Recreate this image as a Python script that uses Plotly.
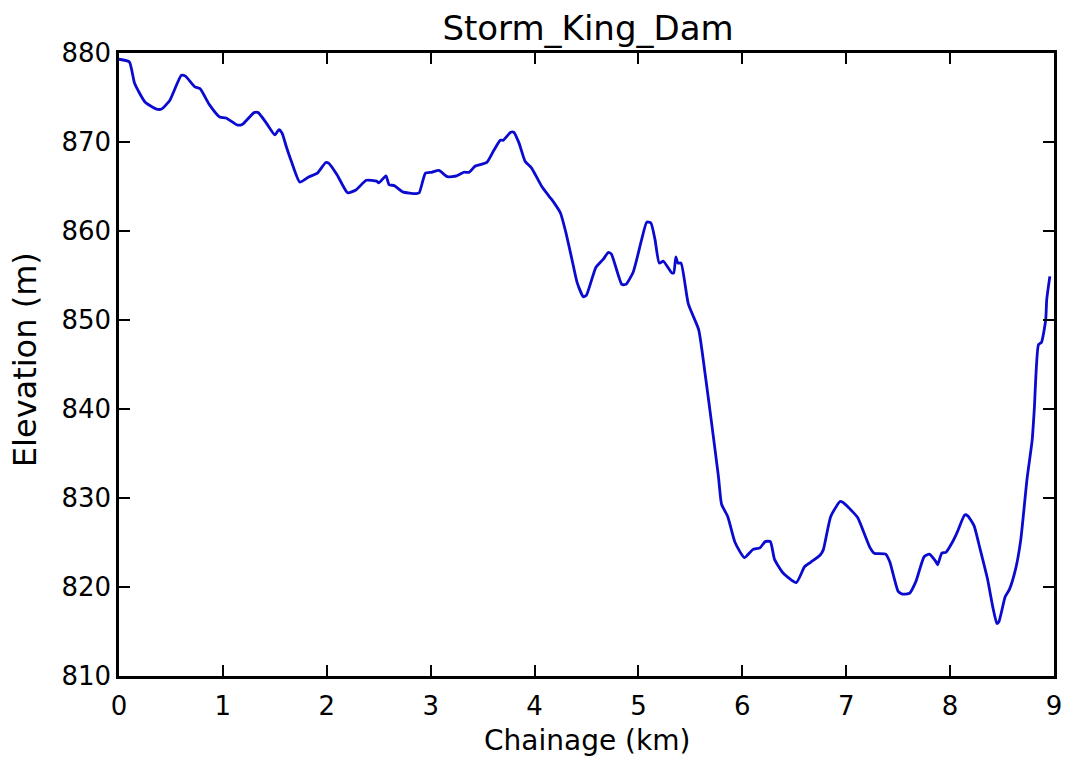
import plotly.graph_objects as go

chainage_km = [0.0, 0.1, 0.15, 0.25, 0.36, 0.41, 0.49, 0.6, 0.64, 0.73, 0.78, 0.87, 0.97, 1.03, 1.14, 1.19,
               1.3, 1.34, 1.42, 1.5, 1.54, 1.57, 1.61, 1.66, 1.74, 1.83, 1.91, 1.99, 2.02, 2.1, 2.2, 2.28,
               2.38, 2.48, 2.5, 2.57, 2.6, 2.65, 2.73, 2.86, 2.89, 2.95, 3.01, 3.08, 3.16, 3.25, 3.32, 3.37,
               3.43, 3.54, 3.61, 3.67, 3.7, 3.77, 3.8, 3.85, 3.91, 3.97, 4.07, 4.14, 4.18, 4.25, 4.3, 4.36,
               4.41, 4.47, 4.5, 4.59, 4.66, 4.71, 4.74, 4.84, 4.88, 4.95, 5.03, 5.08, 5.12, 5.16, 5.2, 5.24,
               5.32, 5.34, 5.36, 5.38, 5.41, 5.48, 5.58, 5.64, 5.7, 5.77, 5.8, 5.86, 5.93, 6.02, 6.1, 6.17,
               6.22, 6.27, 6.31, 6.39, 6.52, 6.6, 6.66, 6.75, 6.78, 6.85, 6.94, 6.97, 7.05, 7.11, 7.23, 7.27,
               7.38, 7.42, 7.5, 7.54, 7.61, 7.67, 7.75, 7.8, 7.86, 7.88, 7.92, 7.96, 8.02, 8.07, 8.14, 8.17,
               8.23, 8.29, 8.36, 8.41, 8.45, 8.47, 8.53, 8.57, 8.63, 8.68, 8.74, 8.79, 8.81, 8.85, 8.88, 8.92,
               8.93, 8.96]
elevation_m = [879.3, 879.0, 876.6, 874.5, 873.7, 873.7, 874.7, 877.5, 877.4, 876.2, 876.0, 874.2, 872.8, 872.7,
               871.9, 872.0, 873.3, 873.3, 872.1, 870.8, 871.4, 871.0, 869.5, 867.8, 865.5, 866.1, 866.5, 867.7,
               867.6, 866.3, 864.3, 864.6, 865.7, 865.6, 865.4, 866.2, 865.2, 865.1, 864.4, 864.2, 864.3, 866.5,
               866.6, 866.8, 866.1, 866.2, 866.6, 866.6, 867.3, 867.7, 869.1, 870.2, 870.2, 871.1, 871.1, 869.9,
               867.8, 867.1, 865.0, 863.9, 863.3, 862.0, 859.9, 856.8, 854.2, 852.6, 852.8, 855.9, 856.8, 857.6,
               857.4, 854.0, 854.0, 855.4, 859.0, 861.0, 860.9, 859.0, 856.4, 856.6, 855.3, 855.3, 857.1, 856.4,
               856.4, 851.8, 848.9, 844.1, 838.8, 832.4, 829.3, 827.9, 825.0, 823.3, 824.2, 824.4, 825.1, 825.1,
               823.1, 821.6, 820.5, 822.3, 822.8, 823.6, 824.2, 827.9, 829.6, 829.5, 828.6, 827.8, 824.4, 823.8,
               823.7, 822.8, 819.5, 819.2, 819.3, 820.6, 823.4, 823.7, 822.9, 822.5, 823.8, 823.9, 825.0, 826.2,
               828.1, 828.0, 826.9, 824.2, 820.9, 817.8, 815.9, 816.1, 818.9, 819.7, 822.0, 825.3, 832.1, 836.5,
               839.9, 847.2, 847.5, 850.0, 852.3, 854.9]

title_text = "Storm_King_Dam"
x_title = "Chainage (km)"
y_title = "Elevation (m)"

fig = go.Figure()
fig.add_trace(go.Scatter(x=chainage_km, y=elevation_m, mode="lines",
                         line=dict(color="#0b0bd0", width=2.8, shape="spline", smoothing=0.5),
                         showlegend=False))

axis_common = dict(showgrid=False, zeroline=False, showline=True, linecolor="black", linewidth=2.5,
                   mirror="allticks", ticks="inside", ticklen=11, tickwidth=1.5, tickcolor="black",
                   tickfont=dict(family="DejaVu Sans", size=26, color="black"))

fig.update_layout(
    width=1073, height=760, autosize=False,
    paper_bgcolor="white", plot_bgcolor="white",
    margin=dict(l=119, r=11, t=53, b=84),
    title=dict(text=title_text, x=0.548, xanchor="center", y=0.963, yanchor="middle",
               font=dict(family="DejaVu Sans", size=34, color="black")),
    xaxis=dict(range=[0, 9], dtick=1, ticklabelstandoff=5, **axis_common),
    yaxis=dict(range=[810, 880], dtick=10, **axis_common),
    annotations=[
        dict(text=x_title, xref="paper", yref="paper", x=0.5, y=-0.1043,
             xanchor="center", yanchor="middle", showarrow=False,
             font=dict(family="DejaVu Sans", size=28, color="black")),
        dict(text=y_title, xref="paper", yref="paper", x=-0.1005, y=0.507, textangle=-90,
             xanchor="center", yanchor="middle", showarrow=False,
             font=dict(family="DejaVu Sans", size=32, color="black")),
    ],
)

fig.write_html("out.html", config={"displayModeBar": False, "responsive": False},
               post_script="document.body.style.margin='0';")
